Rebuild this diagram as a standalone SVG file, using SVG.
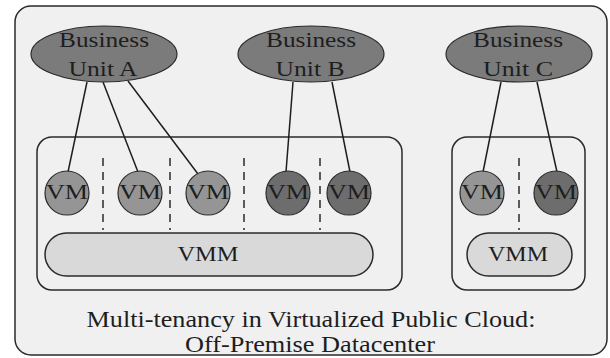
<svg xmlns="http://www.w3.org/2000/svg" width="610" height="358" viewBox="0 0 610 358">
  <defs>
    <style>
      text { font-family: "Liberation Serif", "Times New Roman", serif; fill: #1e1e1e; text-anchor: middle; }
      .frame { fill: #f0f0f0; stroke: #2a2a2a; stroke-width: 1.5; }
      .host { fill: none; stroke: #2a2a2a; stroke-width: 1.5; }
      .unit { fill: #7b7b7b; stroke: #2a2a2a; stroke-width: 1.2; }
      .unit-text { font-size: 22px; }
      .vm-a { fill: #959595; stroke: #2a2a2a; stroke-width: 1.2; }
      .vm-b { fill: #6d6d6d; stroke: #2a2a2a; stroke-width: 1.2; }
      .vm-text { font-size: 20px; }
      .vmm { fill: #d9d9d9; stroke: #2a2a2a; stroke-width: 1.5; }
      .vmm-text { font-size: 20px; }
      .sep { stroke: #2a2a2a; stroke-width: 1.5; stroke-dasharray: 8 6; }
      .link { stroke: #1e1e1e; stroke-width: 1.5; fill: none; }
      .caption { font-size: 23px; }
    </style>
  </defs>

  <!-- datacenter frame -->
  <rect class="frame" x="15" y="6" width="592" height="349" rx="16"/>

  <!-- hosts -->
  <g id="host-1">
    <rect class="host" x="37" y="137" width="365" height="153" rx="15"/>
    <line class="sep" x1="103" y1="158" x2="103" y2="230"/>
    <line class="sep" x1="170" y1="158" x2="170" y2="230"/>
    <line class="sep" x1="244" y1="158" x2="244" y2="230"/>
    <line class="sep" x1="320" y1="158" x2="320" y2="230"/>
  </g>
  <g id="host-2">
    <rect class="host" x="452" y="137" width="133" height="153" rx="15"/>
    <line class="sep" x1="519" y1="158" x2="519" y2="230"/>
  </g>

  <!-- connectors -->
  <g id="connectors">
    <line class="link" x1="87" y1="82" x2="68" y2="172"/>
    <line class="link" x1="103" y1="82" x2="138" y2="172"/>
    <line class="link" x1="128" y1="81" x2="198" y2="174"/>
    <line class="link" x1="293" y1="82" x2="286" y2="172"/>
    <line class="link" x1="332" y1="82" x2="350" y2="172"/>
    <line class="link" x1="501" y1="82" x2="483" y2="172"/>
    <line class="link" x1="537" y1="82" x2="557" y2="172"/>
  </g>

  <!-- business units -->
  <g id="unit-a">
    <ellipse class="unit" cx="104" cy="54" rx="73" ry="28"/>
    <text class="unit-text" x="104" y="47" textLength="90" lengthAdjust="spacingAndGlyphs">Business</text>
    <text class="unit-text" x="103" y="76" textLength="69" lengthAdjust="spacingAndGlyphs">Unit A</text>
  </g>
  <g id="unit-b">
    <ellipse class="unit" cx="311" cy="54" rx="73" ry="28"/>
    <text class="unit-text" x="311" y="47" textLength="90" lengthAdjust="spacingAndGlyphs">Business</text>
    <text class="unit-text" x="310" y="76" textLength="69" lengthAdjust="spacingAndGlyphs">Unit B</text>
  </g>
  <g id="unit-c">
    <ellipse class="unit" cx="519" cy="54" rx="73" ry="28"/>
    <text class="unit-text" x="518" y="47" textLength="90" lengthAdjust="spacingAndGlyphs">Business</text>
    <text class="unit-text" x="518" y="76" textLength="70" lengthAdjust="spacingAndGlyphs">Unit C</text>
  </g>

  <!-- virtual machines -->
  <g id="vm-1"><circle class="vm-a" cx="67" cy="193" r="22"/><text class="vm-text" x="67" y="199" textLength="42" lengthAdjust="spacingAndGlyphs">VM</text></g>
  <g id="vm-2"><circle class="vm-a" cx="140" cy="193" r="22"/><text class="vm-text" x="140" y="199" textLength="42" lengthAdjust="spacingAndGlyphs">VM</text></g>
  <g id="vm-3"><circle class="vm-a" cx="208" cy="193" r="22"/><text class="vm-text" x="208" y="199" textLength="42" lengthAdjust="spacingAndGlyphs">VM</text></g>
  <g id="vm-4"><circle class="vm-b" cx="288" cy="193" r="22"/><text class="vm-text" x="288" y="199" textLength="42" lengthAdjust="spacingAndGlyphs">VM</text></g>
  <g id="vm-5"><circle class="vm-b" cx="349" cy="193" r="22"/><text class="vm-text" x="349" y="199" textLength="42" lengthAdjust="spacingAndGlyphs">VM</text></g>
  <g id="vm-6"><circle class="vm-a" cx="482" cy="193" r="22"/><text class="vm-text" x="482" y="199" textLength="42" lengthAdjust="spacingAndGlyphs">VM</text></g>
  <g id="vm-7"><circle class="vm-b" cx="556" cy="193" r="22"/><text class="vm-text" x="556" y="199" textLength="42" lengthAdjust="spacingAndGlyphs">VM</text></g>

  <!-- hypervisors -->
  <g id="vmm-1">
    <rect class="vmm" x="45" y="233" width="328" height="43" rx="21.5"/>
    <text class="vmm-text" x="208" y="261" textLength="61" lengthAdjust="spacingAndGlyphs">VMM</text>
  </g>
  <g id="vmm-2">
    <rect class="vmm" x="467" y="233" width="105" height="43" rx="21.5"/>
    <text class="vmm-text" x="518" y="261" textLength="60" lengthAdjust="spacingAndGlyphs">VMM</text>
  </g>

  <!-- caption -->
  <g id="caption">
    <text class="caption" x="311" y="327" textLength="449" lengthAdjust="spacingAndGlyphs">Multi-tenancy in Virtualized Public Cloud:</text>
    <text class="caption" x="310" y="352" textLength="250" lengthAdjust="spacingAndGlyphs">Off-Premise Datacenter</text>
  </g>
</svg>
